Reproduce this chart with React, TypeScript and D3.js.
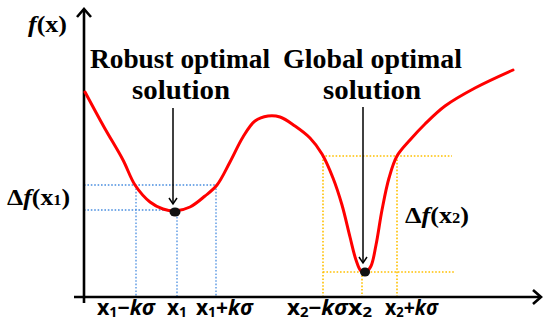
import React from "react";
import * as d3 from "d3";

// Curve samples (data units: x 0..456, f 0..287)
const curveX = [1, 20, 39, 51, 66, 79, 91, 106, 121, 133, 146, 159, 171, 184, 196, 211, 226, 238, 249, 258, 266, 272, 277, 282, 287, 292, 298, 305, 313, 326, 341, 361, 391, 429];
const curveY = [205, 170, 137, 112, 95, 88, 86, 90, 101, 112, 135, 160, 176, 181, 180, 171, 159, 143, 119, 92, 60, 37, 26, 25, 31, 52, 87, 119, 141, 157, 173, 191, 209, 227];

const robustX = [52, 93, 132]; // x1-kσ, x1, x1+kσ
const robustF = [112, 87]; // f(x1±kσ), f(x1)
const globalX = [239, 278, 313]; // x2-kσ, x2, x2+kσ
const globalF = [141, 25]; // f(x2±kσ), f(x2)
const robustMin = [91, 86];
const globalMin = [281, 25];

const RED = "#ff0000";
const BLUE = "#4a8ee0";
const ORANGE = "#ffc000";

export default function App() {
  const W = 550, H = 323;
  const x = d3.scaleLinear().domain([0, 456]).range([84, 540]);
  const y = d3.scaleLinear().domain([0, 287]).range([297, 10]);
  const pts: [number, number][] = curveX.map((v, i) => [v, curveY[i]]);
  const line = d3.line<[number, number]>().x(d => x(d[0])).y(d => y(d[1])).curve(d3.curveCatmullRom.alpha(0.5));
  const x0 = x(0);
  const y0 = y(0);
  const dot = { strokeDasharray: "1.6 1.8", strokeWidth: 1.3, fill: "none" } as const;
  const serif = "'Liberation Serif', 'Times New Roman', serif";
  const sans = "'Open Sans', 'DejaVu Sans', sans-serif";

  const sub = (s: string) => (
    <tspan fontSize="14" dy="2">{s}</tspan>
  );
  const xLabel = (n: string, op: string | null, px: number, len: number) => (
    <text x={px} y={315} fontFamily={sans} fontWeight="bold" fontSize="21" textLength={len} lengthAdjust="spacingAndGlyphs">
      x{sub(n)}
      {op && <tspan dy="-2">{op}</tspan>}
      {op && <tspan fontStyle="italic">kσ</tspan>}
    </text>
  );

  return (
    <svg width={W} height={H} style={{ position: "absolute", left: 0, top: 0 }}>
      <rect width={W} height={H} fill="#fff" />
      {/* blue guides */}
      <g stroke={BLUE} {...dot}>
        <line x1={x0} x2={x(robustX[2])} y1={y(robustF[0])} y2={y(robustF[0])} />
        <line x1={x0} x2={x(robustX[1])} y1={y(robustF[1])} y2={y(robustF[1])} />
        <line x1={x(robustX[0])} x2={x(robustX[0])} y1={y(robustF[0])} y2={y0} />
        <line x1={x(robustX[1])} x2={x(robustX[1])} y1={y(robustF[1])} y2={y0} />
        <line x1={x(robustX[2])} x2={x(robustX[2])} y1={y(robustF[0])} y2={y0} />
      </g>
      {/* orange guides */}
      <g stroke={ORANGE} {...dot} strokeWidth={1.6}>
        <line x1={x(globalX[0]) - 1} x2={x(368)} y1={y(globalF[0])} y2={y(globalF[0])} />
        <line x1={x(globalX[0])} x2={x(371)} y1={y(globalF[1])} y2={y(globalF[1])} />
        <line x1={x(globalX[0])} x2={x(globalX[0])} y1={y(globalF[0])} y2={y0} />
        <line x1={x(globalX[1])} x2={x(globalX[1])} y1={y(globalF[1])} y2={y0} />
        <line x1={x(globalX[2])} x2={x(globalX[2])} y1={y(globalF[0])} y2={y0} />
      </g>
      {/* axes */}
      <g stroke="#000" strokeWidth={2.6} fill="none" strokeLinecap="butt">
        <line x1={74} x2={541} y1={y0} y2={y0} />
        <polyline points={`533,290 541,${y0} 533,304`} strokeLinejoin="miter" />
        <line x1={x0} x2={x0} y1={303} y2={9} />
        <polyline points={`77,17 ${x0},9 91,17`} strokeLinejoin="miter" />
      </g>
      {/* curve */}
      <path d={line(pts) || ""} stroke={RED} strokeWidth={3} fill="none" strokeLinecap="round" />
      {/* arrows */}
      <g stroke="#000" strokeWidth={1.5} fill="none">
        <line x1={x(robustMin[0]) - 2} x2={x(robustMin[0]) - 2} y1={108} y2={204} />
        <polyline points={`${x(robustMin[0]) - 6},198 ${x(robustMin[0]) - 2},204 ${x(robustMin[0]) + 2},198`} />
        <line x1={x(globalMin[0]) - 2} x2={x(globalMin[0]) - 2} y1={107} y2={263} />
        <polyline points={`${x(globalMin[0]) - 6},257 ${x(globalMin[0]) - 2},263 ${x(globalMin[0]) + 2},257`} />
      </g>
      {/* minima */}
      <ellipse cx={x(robustMin[0])} cy={y(robustMin[1]) + 1} rx={5.5} ry={4.5} fill="#111" />
      <ellipse cx={x(globalMin[0])} cy={y(globalMin[1])} rx={5} ry={4.5} fill="#111" />
      {/* titles */}
      <g fontFamily={serif} fontWeight="bold" fontSize="27" fill="#000">
        <text x={90} y={68} textLength={180} lengthAdjust="spacingAndGlyphs">Robust optimal</text>
        <text x={132} y={99} textLength={98} lengthAdjust="spacingAndGlyphs">solution</text>
        <text x={283} y={68} textLength={179} lengthAdjust="spacingAndGlyphs">Global optimal</text>
        <text x={323} y={99} textLength={98} lengthAdjust="spacingAndGlyphs">solution</text>
      </g>
      {/* f(x) */}
      <text x={28} y={32} fontFamily={serif} fontWeight="bold" fontSize="24" textLength={39} lengthAdjust="spacingAndGlyphs">
        <tspan fontStyle="italic">f</tspan>(x)
      </text>
      <text x={7} y={205} fontFamily={serif} fontWeight="bold" fontSize="24" textLength={63} lengthAdjust="spacingAndGlyphs">
        Δ<tspan fontStyle="italic">f</tspan>(x<tspan fontSize="15">1</tspan>)
      </text>
      <text x={405} y={223} fontFamily={serif} fontWeight="bold" fontSize="24" textLength={64} lengthAdjust="spacingAndGlyphs">
        Δ<tspan fontStyle="italic">f</tspan>(x<tspan fontSize="15">2</tspan>)
      </text>
      {/* x labels */}
      {xLabel("1", "−", 97, 58)}
      {xLabel("1", null, 167, 20)}
      {xLabel("1", "+", 196, 57)}
      {xLabel("2", "−", 287, 61)}
      {xLabel("2", null, 348, 24)}
      {xLabel("2", "+", 385, 53)}
    </svg>
  );
}
